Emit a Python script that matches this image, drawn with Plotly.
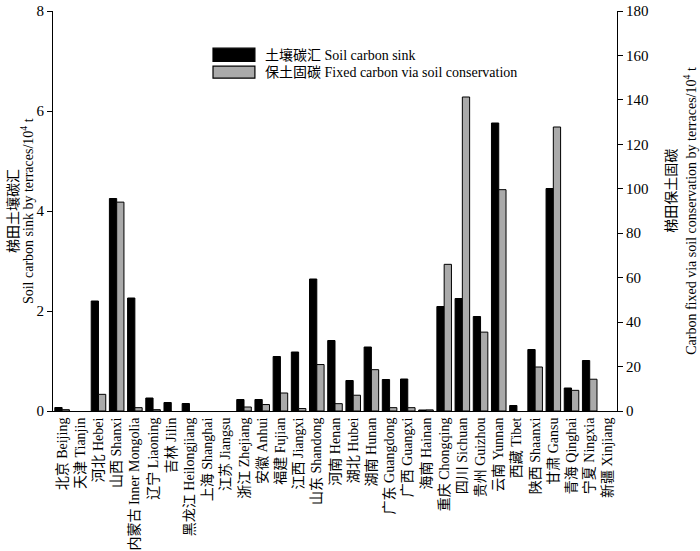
import plotly.graph_objects as go

provinces = ["北京 Beijing", "天津 Tianjin", "河北 Hebei", "山西 Shanxi", "内蒙古 Inner Mongolia",
             "辽宁 Liaoning", "吉林 Jilin", "黑龙江 Heilongjiang", "上海 Shanghai", "江苏 Jiangsu",
             "浙江 Zhejiang", "安徽 Anhui", "福建 Fujian", "江西 Jiangxi", "山东 Shandong",
             "河南 Henan", "湖北 Hubei", "湖南 Hunan", "广东 Guangdong", "广西 Guangxi",
             "海南 Hainan", "重庆 Chongqing", "四川 Sichuan", "贵州 Guizhou", "云南 Yunnan",
             "西藏 Tibet", "陕西 Shaanxi", "甘肃 Gansu", "青海 Qinghai", "宁夏 Ningxia", "新疆 Xinjiang"]

soil_carbon_sink = [0.07, 0, 2.2, 4.25, 2.26, 0.26, 0.17, 0.15, 0, 0,
                    0.23, 0.23, 1.09, 1.18, 2.64, 1.41, 0.61, 1.28, 0.63, 0.64,
                    0.02, 2.09, 2.25, 1.89, 5.76, 0.11, 1.23, 4.45, 0.46, 1.01, 0]

fixed_carbon = [0.6, 0, 7.5, 94, 1.5, 0.6, 0, 0, 0, 0,
                1.8, 2.9, 8.1, 1.1, 20.9, 3.3, 7.1, 18.6, 1.5, 1.5,
                0.5, 66, 141.3, 35.5, 99.6, 0, 19.8, 127.8, 9.3, 14.3, 0]

series_names = ["土壤碳汇 Soil carbon sink", "保土固碳 Fixed carbon via soil conservation"]

font_family = "Liberation Serif, Times New Roman, Noto Sans CJK SC, serif"

fig = go.Figure()
fig.add_trace(go.Bar(
    x=provinces, y=soil_carbon_sink, name=series_names[0],
    marker=dict(color="black",
                line=dict(color="black", width=[1 if v > 0 else 0 for v in soil_carbon_sink])),
    offsetgroup="a", yaxis="y", showlegend=False))
fig.add_trace(go.Bar(
    x=provinces, y=fixed_carbon, name=series_names[1],
    marker=dict(color="#aaaaaa",
                line=dict(color="black", width=[1 if v > 0 else 0 for v in fixed_carbon])),
    offsetgroup="b", yaxis="y2", showlegend=False))

# legend drawn as paper-space swatches + labels
swatch_colors = ["black", "#aaaaaa"]
rows = [(0.907, 0.874), (0.862, 0.832)]
for (y1, y0), col, name in zip(rows, swatch_colors, series_names):
    fig.add_shape(type="rect", xref="paper", yref="paper", x0=0.2837, x1=0.358, y0=y0, y1=y1,
                  fillcolor=col, line=dict(color="black", width=1.2))
    fig.add_annotation(xref="paper", yref="paper", x=0.372, y=(y0 + y1) / 2, xanchor="left",
                       yanchor="middle", text=name, showarrow=False,
                       font=dict(size=14, family=font_family, color="black"))

# axis titles
fig.add_annotation(xref="paper", yref="paper", x=-0.071, y=0.5, xanchor="center", yanchor="middle",
                   text="梯田土壤碳汇", textangle=-90, showarrow=False,
                   font=dict(size=14, family=font_family, color="black"))
fig.add_annotation(xref="paper", yref="paper", x=-0.046, y=0.5, xanchor="center", yanchor="middle",
                   text="Soil carbon sink by terraces/10<sup>4</sup> t", textangle=-90, showarrow=False,
                   font=dict(size=14, family=font_family, color="black"))
fig.add_annotation(xref="paper", yref="paper", x=1.097, y=0.55, xanchor="center", yanchor="middle",
                   text="梯田保土固碳", textangle=-90, showarrow=False,
                   font=dict(size=14, family=font_family, color="black"))
fig.add_annotation(xref="paper", yref="paper", x=1.129, y=0.5, xanchor="center", yanchor="middle",
                   text="Carbon fixed via soil conservation by terraces/10<sup>4</sup> t", textangle=-90,
                   showarrow=False, font=dict(size=14, family=font_family, color="black"))

fig.update_layout(
    width=700, height=551,
    margin=dict(l=53, r=83, t=11, b=140, autoexpand=False),
    paper_bgcolor="white", plot_bgcolor="white",
    font=dict(family=font_family, size=12, color="black"),
    barmode="group", bargap=0.2, bargroupgap=0.0,
    xaxis=dict(showline=True, linecolor="black", linewidth=1, ticks="", automargin=False,
               tickangle=-90, tickfont=dict(size=14, family=font_family),
               showgrid=False, zeroline=False),
    yaxis=dict(range=[0, 8], dtick=2, showline=True, linecolor="black", linewidth=1, automargin=False,
               ticks="outside", ticklen=5, tickcolor="black", showgrid=False, zeroline=False,
               tickfont=dict(size=15, family=font_family)),
    yaxis2=dict(range=[0, 180], dtick=20, overlaying="y", side="right", showline=True, automargin=False,
                linecolor="black", linewidth=1, ticks="outside", ticklen=5, tickcolor="black",
                showgrid=False, zeroline=False, tickfont=dict(size=15, family=font_family)),
)

fig.write_html("out.html", config={"displayModeBar": False},
               post_script="document.body.style.margin='0';document.body.style.overflow='hidden';")
